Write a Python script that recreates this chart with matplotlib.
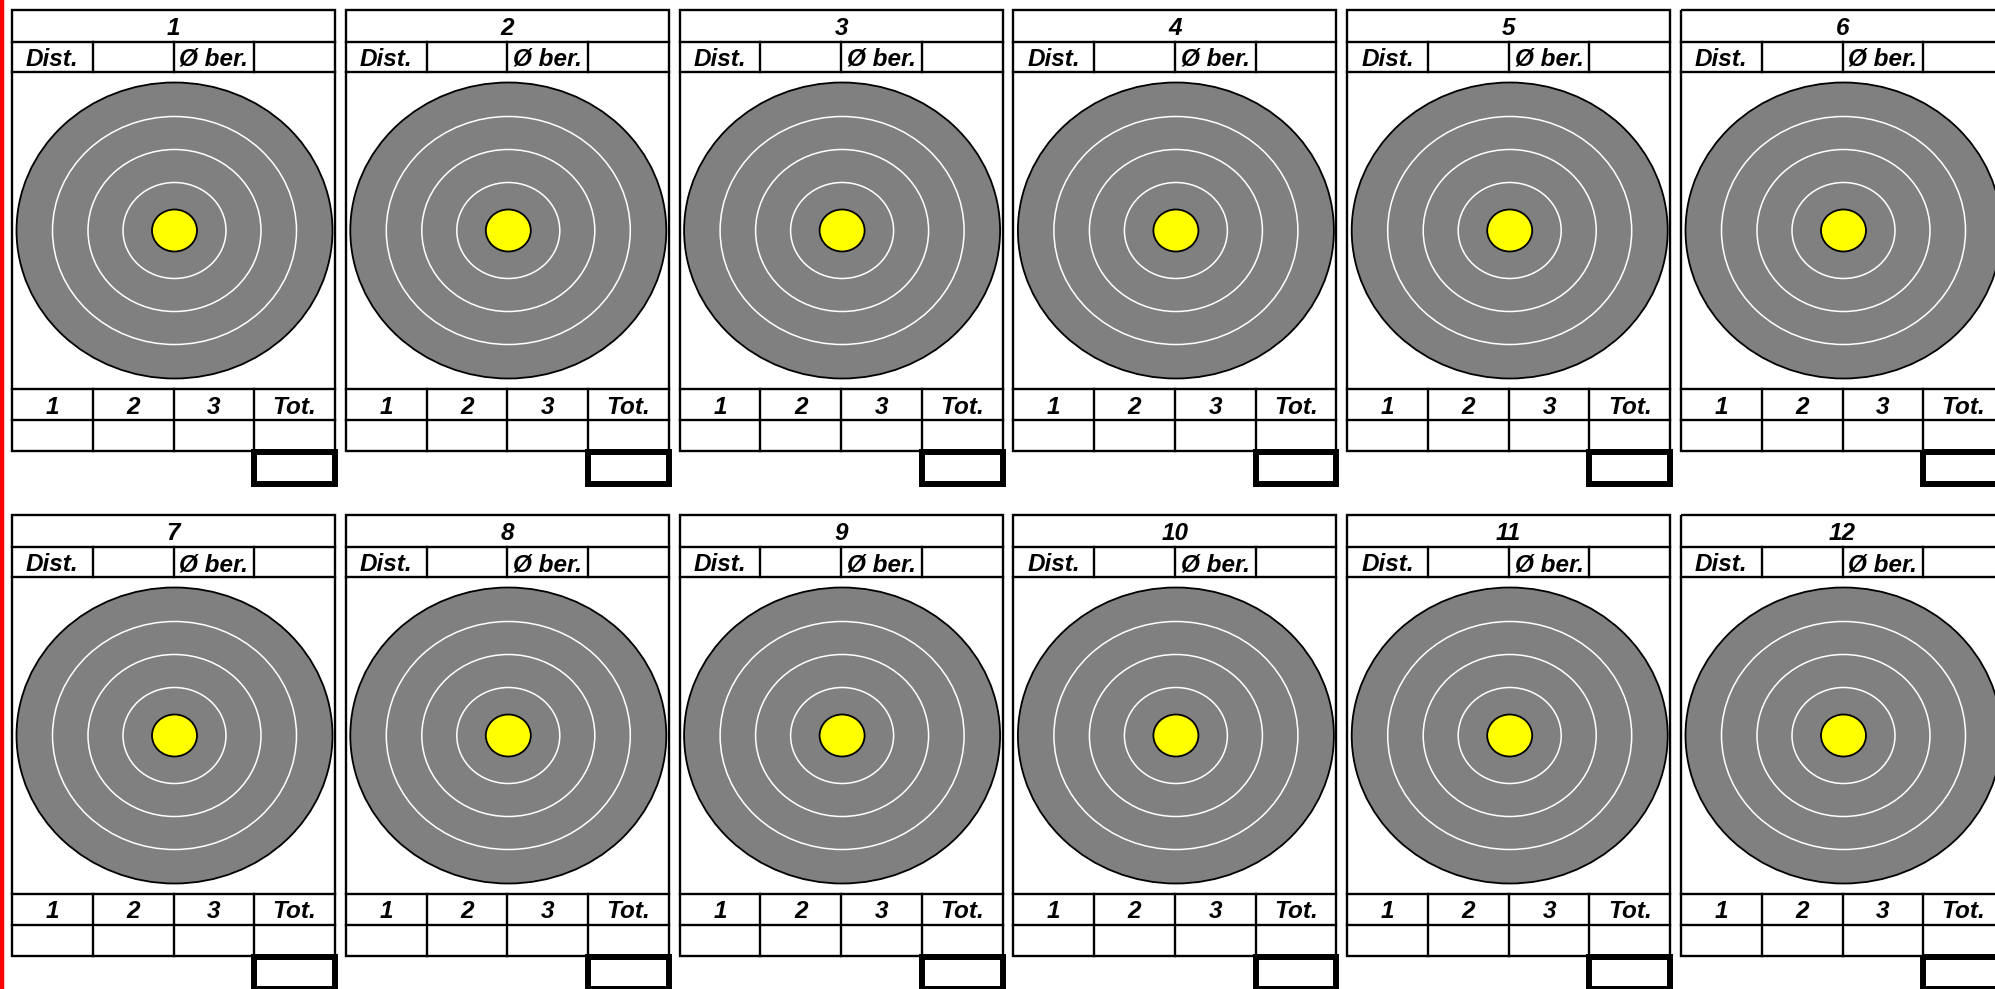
"""Archery score cards: 2 rows x 6 targets, drawn in pixel coords."""
import matplotlib
matplotlib.use("Agg")
import matplotlib.pyplot as plt
from matplotlib.patches import Ellipse, Rectangle

# card contents
card_numbers = [1, 2, 3, 4, 5, 6, 7, 8, 9, 10, 11, 12]
info_labels = ["Dist.", "", "Ø ber.", ""]
score_labels = ["1", "2", "3", "Tot."]
# target ring radii (x, y) in px, outer face first
ring_rx = [122, 86.5, 51.5]
ring_ry = [114, 81, 48]
face_r = (158, 148)
gold_r = (22.5, 21)

W, H = 1995, 989
n_cols = 6
card_w = 323
pitch_x, pitch_y = 333.8, 505
x_first, y_first = 12, 10
# row boundaries inside a card (offset from card top)
row_y = [0, 32, 62, 379, 410, 441]
box_y = (442, 474)

fig = plt.figure(figsize=(W / 100, H / 100), dpi=100)
ax = fig.add_axes([0, 0, 1, 1])
ax.set_xlim(0, W)
ax.set_ylim(H, 0)
ax.set_axis_off()

font = dict(family=["Liberation Sans", "DejaVu Sans"], fontsize=17.5,
            fontweight="bold", fontstyle="italic", color="black")
thin = 1.7
text_dy = 2.5  # cap height sits a little below the row centre


def draw_card(x0, y0, num):
    col_w = card_w / 4
    xs = [x0 + i * col_w for i in range(5)]
    ys = [y0 + r for r in row_y]
    # outer frame
    ax.add_patch(Rectangle((x0, ys[0]), card_w, ys[-1] - ys[0], fill=False,
                           ec="black", lw=thin, zorder=3))
    for yy in ys[1:-1]:
        ax.plot([x0, x0 + card_w], [yy, yy], color="black", lw=thin, zorder=3)
    # column dividers in info row and score rows
    for xx in xs[1:-1]:
        ax.plot([xx, xx], [ys[1], ys[2]], color="black", lw=thin, zorder=3)
        ax.plot([xx, xx], [ys[3], ys[5]], color="black", lw=thin, zorder=3)
    ax.text(x0 + card_w / 2, (ys[0] + ys[1]) / 2 + text_dy, str(num),
            ha="center", va="center", **font)
    for i, lab in enumerate(info_labels):
        if lab:
            ax.text((xs[i] + xs[i + 1]) / 2, (ys[1] + ys[2]) / 2 + text_dy, lab,
                    ha="center", va="center", **font)
    for i, lab in enumerate(score_labels):
        ax.text((xs[i] + xs[i + 1]) / 2, (ys[3] + ys[4]) / 2 + text_dy, lab,
                ha="center", va="center", **font)
    # total box, heavy line under the last column
    ax.add_patch(Rectangle((xs[3], y0 + box_y[0]), col_w, box_y[1] - box_y[0],
                           fill=False, ec="black", lw=4.3, zorder=4))
    # target face
    cx, cy = x0 + card_w / 2 + 1, (ys[2] + ys[3]) / 2
    ax.add_patch(Ellipse((cx, cy), 2 * face_r[0], 2 * face_r[1],
                         fc="#808080", ec="black", lw=1.3, zorder=2))
    for rx, ry in zip(ring_rx, ring_ry):
        ax.add_patch(Ellipse((cx, cy), 2 * rx, 2 * ry, fill=False,
                             ec="white", lw=1.1, zorder=2))
    ax.add_patch(Ellipse((cx, cy), 2 * gold_r[0], 2 * gold_r[1],
                         fc="#FFFF00", ec="black", lw=1.3, zorder=2))


for k, num in enumerate(card_numbers):
    r, c = divmod(k, n_cols)
    draw_card(x_first + c * pitch_x, y_first + r * pitch_y, num)

# red margin line on the left edge
ax.plot([2, 2], [0, H], color="red", lw=3.2, zorder=5)

fig.savefig("out.png", dpi=100)
